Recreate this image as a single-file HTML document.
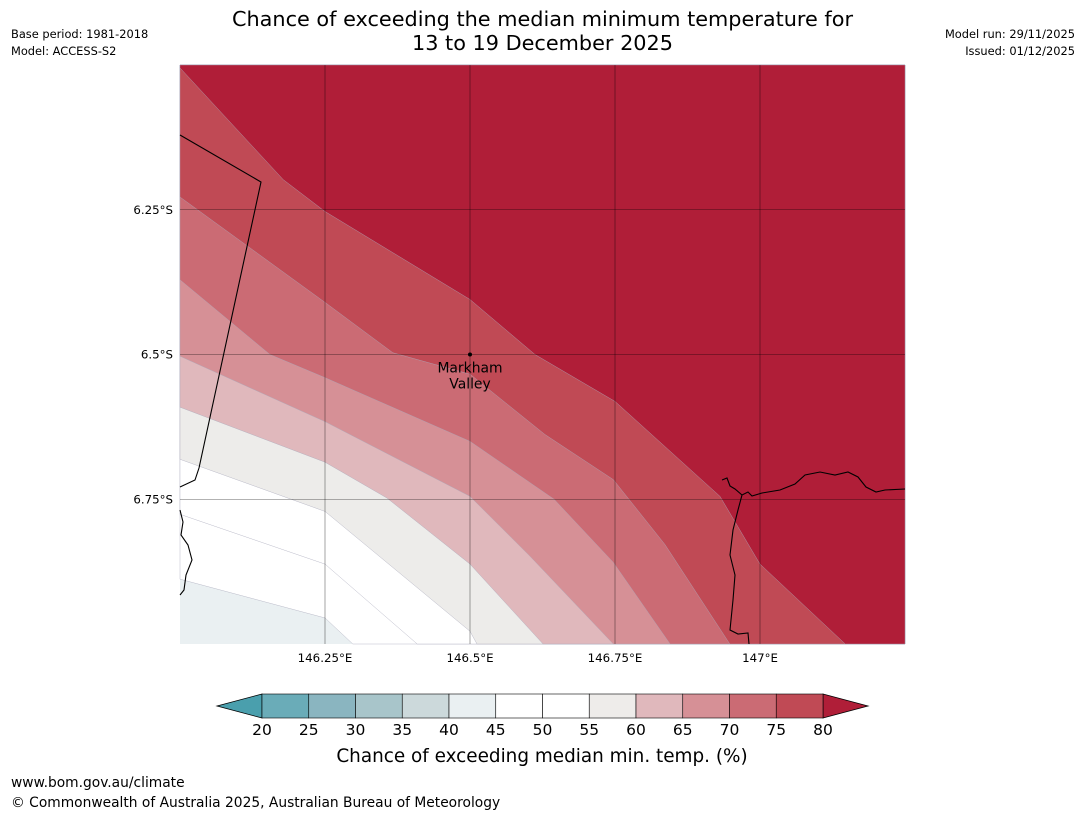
<!DOCTYPE html>
<html><head><meta charset="utf-8">
<style>
body{margin:0;background:#fff;font-family:"DejaVu Sans","Liberation Sans",sans-serif;}
#wrap{position:relative;width:1085px;height:816px;overflow:hidden;}
.t{position:absolute;font-size:11.4px;color:#000;white-space:nowrap;}
</style></head><body>
<div id="wrap">
<div class="t" style="left:11px;top:27px">Base period: 1981-2018</div>
<div class="t" style="left:11px;top:44px">Model: ACCESS-S2</div>
<div class="t" style="right:10px;top:27px;text-align:right">Model run: 29/11/2025</div>
<div class="t" style="right:10px;top:44px;text-align:right">Issued: 01/12/2025</div>
<div class="t" style="left:0;width:1085px;top:7px;text-align:center;font-size:20.8px;line-height:24px">Chance of exceeding the median minimum temperature for<br>13 to 19 December 2025</div>
<div class="t" style="left:11px;top:775px;font-size:13.8px">www.bom.gov.au/climate</div>
<div class="t" style="left:11px;top:795px;font-size:13.8px">© Commonwealth of Australia 2025, Australian Bureau of Meteorology</div>
<svg id="svg" width="1085" height="816" style="position:absolute;left:0;top:0"></svg>
</div>
<script>
const bandLevels=[80,75,70,65,60,55,50,45];
const bandColors=["#b01e38","#c04a55","#cb6b74","#d69096","#e0b8bc","#edecea","#ffffff","#ffffff"];
// contour boundaries as (lon, lat); each band fills area to the upper-right of its line
const bandLines=[
 [[146.0,-6.005],[146.178,-6.198],[146.25,-6.253],[146.5,-6.405],[146.612,-6.5],[146.75,-6.581],[146.931,-6.745],[147.0,-6.862],[147.147,-7.0]],
 [[146.0,-6.228],[146.25,-6.41],[146.367,-6.497],[146.5,-6.534],[146.629,-6.638],[146.747,-6.716],[146.836,-6.828],[146.948,-7.0]],
 [[146.0,-6.371],[146.155,-6.5],[146.25,-6.54],[146.5,-6.65],[146.645,-6.75],[146.747,-6.859],[146.845,-7.0]],
 [[146.0,-6.503],[146.25,-6.616],[146.5,-6.745],[146.603,-6.848],[146.747,-7.0]],
 [[146.0,-6.591],[146.25,-6.686],[146.357,-6.748],[146.5,-6.862],[146.626,-7.0]],
 [[146.0,-6.681],[146.25,-6.771],[146.5,-6.978],[146.512,-7.0]],
 [[146.0,-6.776],[146.25,-6.862],[146.409,-7.0]],
 [[146.0,-6.888],[146.25,-6.955],[146.298,-7.0]]
];
const cbLevels=[20,25,30,35,40,45,50,55,60,65,70,75,80];
const cbColors=["#6aacb8","#8ab5c0","#a8c5ca","#ccd9db","#eaf0f2","#ffffff","#ffffff","#eeecea","#e0b8bc","#d69096","#cb6b74","#c04a55"];
const lonTicks=[146.25,146.5,146.75,147.0];
const lonLabels=["146.25°E","146.5°E","146.75°E","147°E"];
const latTicks=[-6.25,-6.5,-6.75];
const latLabels=["6.25°S","6.5°S","6.75°S"];

const X0=180,X1=905,Y0=65,Y1=644;
const lonMin=146.0,lonMax=147.25,latMax=-6.0,latMin=-7.0;
const sx=l=>X0+(l-lonMin)/(lonMax-lonMin)*(X1-X0);
const sy=a=>Y0+(latMax-a)/(latMax-latMin)*(Y1-Y0);
const svg=document.getElementById('svg');
const NS="http://www.w3.org/2000/svg";
const FF="DejaVu Sans, Liberation Sans, sans-serif";
function mk(t,a){const e=document.createElementNS(NS,t);for(const k in a)e.setAttribute(k,a[k]);svg.appendChild(e);return e;}

let bg=mk('rect',{x:X0,y:Y0,width:X1-X0,height:Y1-Y0,fill:"#eaf0f2"});


for(let i=bandLines.length-1;i>=0;i--){
 const ln=bandLines[i];
 let pts=ln.map(p=>sx(p[0])+","+sy(p[1]));
 pts.push(X1+","+Y1,X1+","+Y0,X0+","+Y0);
 const p=mk('polygon',{points:pts.join(" "),fill:bandColors[i],stroke:"#aab",'stroke-width':0.4});
 
 
}
const coast=[
 "M180,135 L261,182 L199,468 L195,480 L180,487",
 "M180,510 L183,522 L181,535 L188,545 L192,560 L186,575 L184,590 L180,595",
 "M722,480 L727,478 L730,486 L735,489 L742,495 L748,492 L752,496 L762,493 L780,490 L795,484 L805,475 L820,472 L835,475 L848,472 L858,477 L866,487 L876,492 L885,490 L905,489",
 "M742,495 L738,510 L733,530 L730,555 L735,575 L733,600 L730,630 L738,634 L748,633 L749,644"
];
coast.forEach((d,i)=>{const e=mk('path',{d:d,fill:"none",stroke:"#000",'stroke-width':1.1});
 
 });
lonTicks.forEach((v,i)=>{const l=mk('line',{x1:sx(v),x2:sx(v),y1:Y0,y2:Y1,stroke:"#000",'stroke-width':0.6,'stroke-opacity':0.6});
 
 
 const t=mk('text',{x:sx(v),y:Y1+18,'font-size':11.8,'text-anchor':'middle','font-family':FF});t.textContent=lonLabels[i];
 
 });
latTicks.forEach((v,i)=>{const l=mk('line',{x1:X0,x2:X1,y1:sy(v),y2:sy(v),stroke:"#000",'stroke-width':0.6,'stroke-opacity':0.6});
 
 
 const t=mk('text',{x:X0-7,y:sy(v)+4,'font-size':11.8,'text-anchor':'end','font-family':FF});t.textContent=latLabels[i];
 
 });
const px=sx(146.5),py=sy(-6.5);
let dot=mk('circle',{cx:px,cy:py,r:2,fill:"#000"});


[["Markham",py+18],["Valley",py+34]].forEach(a=>{const t=mk('text',{x:px,y:a[1],'font-size':13.9,'text-anchor':'middle','font-family':FF});t.textContent=a[0];
 
 });
const cbX0=262,cbX1=823,cbY=694,cbH=24;
const cx=v=>cbX0+(v-cbLevels[0])/(cbLevels[cbLevels.length-1]-cbLevels[0])*(cbX1-cbX0);
let lt=mk('polygon',{points:`217,${cbY+cbH/2} ${cbX0},${cbY} ${cbX0},${cbY+cbH}`,fill:"#4a9fad",stroke:"#000",'stroke-width':0.8});


let rt=mk('polygon',{points:`868,${cbY+cbH/2} ${cbX1},${cbY} ${cbX1},${cbY+cbH}`,fill:"#b01e38",stroke:"#000",'stroke-width':0.8});


for(let i=0;i<cbColors.length;i++){
 const r=mk('rect',{x:cx(cbLevels[i]),y:cbY,width:cx(cbLevels[i+1])-cx(cbLevels[i]),height:cbH,fill:cbColors[i],stroke:"#000",'stroke-width':0.6});
 
 
}
cbLevels.forEach(v=>{const t=mk('text',{x:cx(v),y:cbY+cbH+17,'font-size':15.5,'text-anchor':'middle','font-family':FF});t.textContent=v;
 
 });
let ct=mk('text',{x:542,y:762,'font-size':18.4,'text-anchor':'middle','font-family':FF});ct.textContent="Chance of exceeding median min. temp. (%)";


</script>
</body></html>
